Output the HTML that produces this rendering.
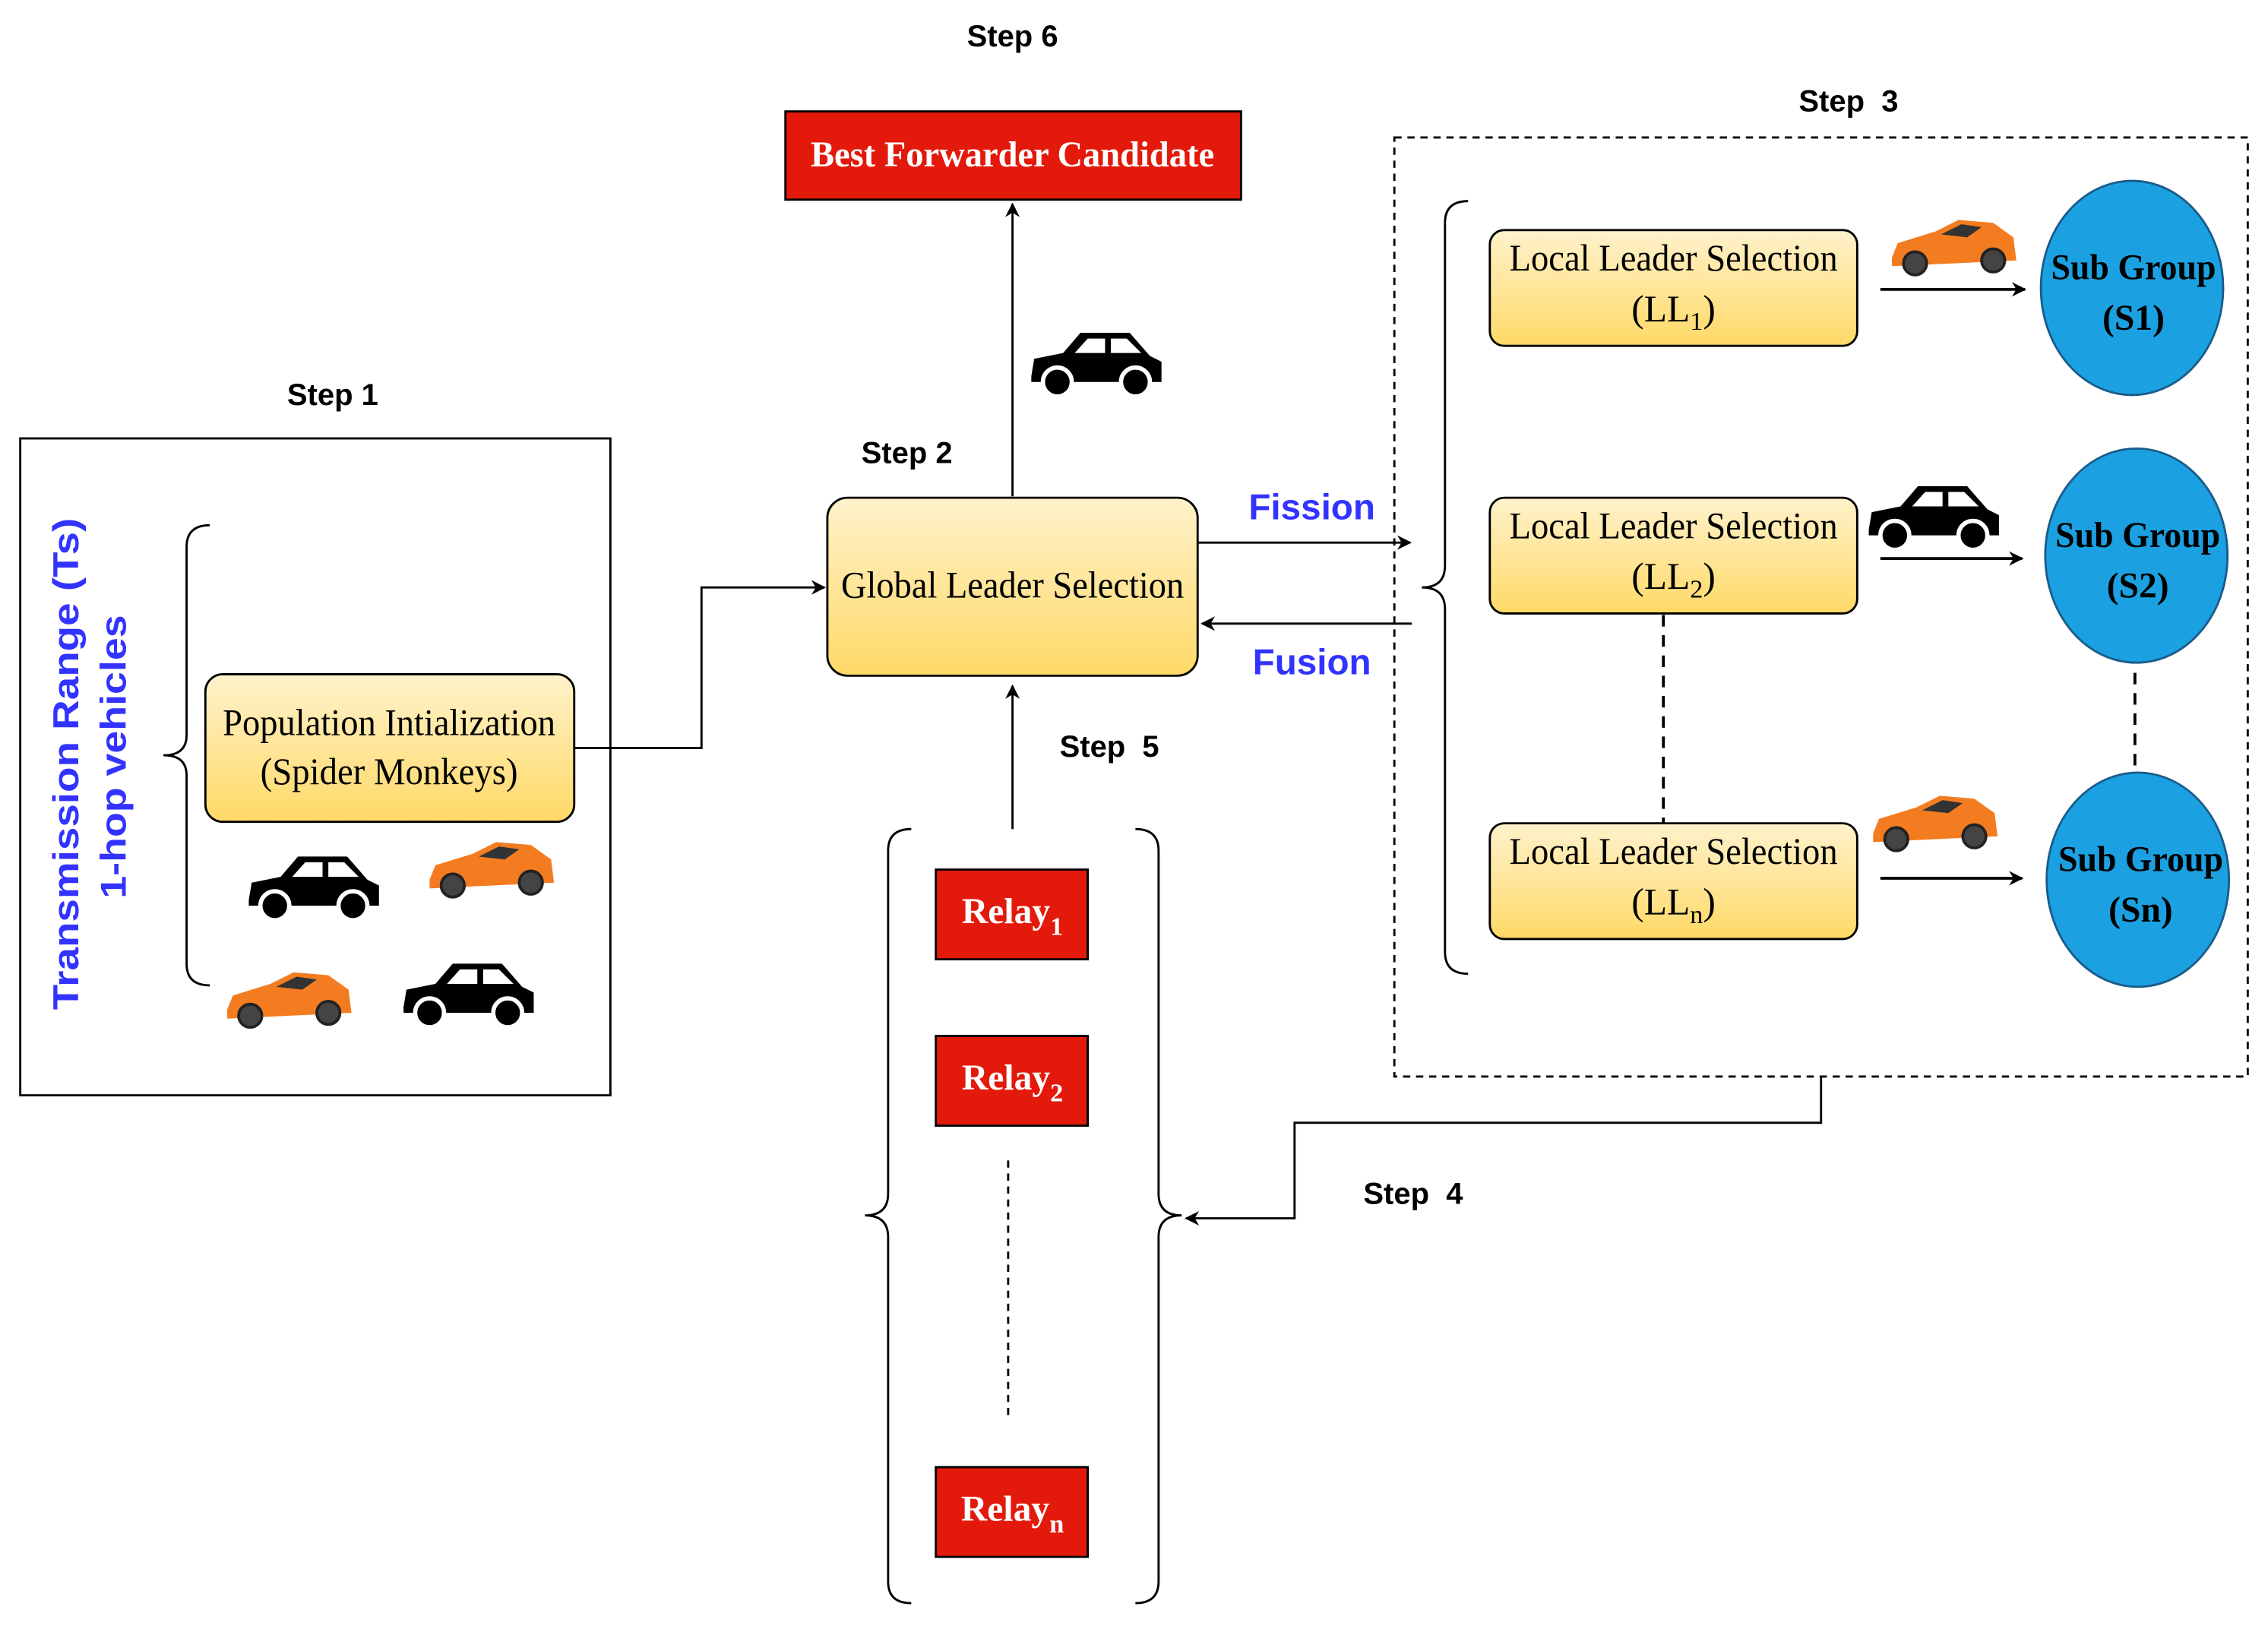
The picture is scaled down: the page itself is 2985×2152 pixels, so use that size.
<!DOCTYPE html>
<html><head><meta charset="utf-8"><style>
html,body{margin:0;padding:0;background:#fff;}
svg{display:block;}
.st{font-family:"Liberation Sans",sans-serif;font-weight:bold;font-size:21px;fill:#000;text-anchor:middle;}
.sf{font-family:"Liberation Serif",serif;font-size:26px;fill:#000;text-anchor:middle;}
.bl{font-family:"Liberation Sans",sans-serif;font-weight:bold;fill:#3333ff;text-anchor:middle;}
.wr{font-family:"Liberation Serif",serif;font-weight:bold;font-size:25px;fill:#fff;text-anchor:middle;}
</style></head><body>
<svg width="2985" height="2152" viewBox="0 0 1568 1130" preserveAspectRatio="none" xmlns="http://www.w3.org/2000/svg">
<defs>
<linearGradient id="g" x1="0" y1="0" x2="0" y2="1"><stop offset="0" stop-color="#fff2cc"/><stop offset="1" stop-color="#ffd966"/></linearGradient>
<marker id="a" markerWidth="10" markerHeight="10" refX="9" refY="5" orient="auto" markerUnits="userSpaceOnUse"><path d="M0,0 L10,5 L0,10 L3,5 z" fill="#000"/></marker>
<g id="bc">
<path d="M0,32 L2,20 L22,16 L34,2 L68,2 L82,18 L90,22 L90,36 L0,36 z" fill="#000"/>
<path d="M30,16 L39,6 L51,6 L51,16 z M55,6 L66,6 L76,16 L55,16 z" fill="#fff"/>
<circle cx="18" cy="36" r="10" fill="#000" stroke="#fff" stroke-width="3"/><circle cx="72" cy="36" r="10" fill="#000" stroke="#fff" stroke-width="3"/>
</g>
<g id="oc">
<path d="M0,26 L4,16 L30,8 L46,0 L70,2 L84,12 L86,28 L0,32 z" fill="#f47c20"/>
<path d="M34,10 L48,3 L62,5 L52,12 z" fill="#333"/>
<circle cx="16" cy="30" r="8" fill="#444" stroke="#222" stroke-width="2"/><circle cx="70" cy="28" r="8" fill="#444" stroke="#222" stroke-width="2"/>
</g>
</defs>
<text class="st" x="700" y="32">Step 6</text>
<rect x="543" y="77" width="315" height="61" fill="#e31a0b" stroke="#000" stroke-width="1.5"/>
<text class="wr" x="700" y="115" textLength="279" lengthAdjust="spacingAndGlyphs">Best Forwarder Candidate</text>
<line x1="700" y1="343" x2="700" y2="141" stroke="#000" stroke-width="1.5" marker-end="url(#a)"/>
<use href="#bc" x="713" y="228"/>
<text class="st" x="627" y="320">Step 2</text>
<rect x="572" y="344" width="256" height="123" rx="14" fill="url(#g)" stroke="#000" stroke-width="1.5"/>
<text class="sf" x="700" y="413" textLength="237" lengthAdjust="spacingAndGlyphs">Global Leader Selection</text>
<text class="st" x="230" y="280">Step 1</text>
<rect x="14" y="303" width="408" height="454" fill="none" stroke="#000" stroke-width="1.5"/>
<text class="bl" font-size="25" transform="translate(54,528) rotate(-90)" textLength="340" lengthAdjust="spacingAndGlyphs">Transmission Range (Ts)</text>
<text class="bl" font-size="25" transform="translate(87,523) rotate(-90)" textLength="196" lengthAdjust="spacingAndGlyphs">1-hop vehicles</text>
<path d="M145,363 Q129,363 129,378 L129,508 Q129,522 113,522 Q129,522 129,536 L129,666 Q129,681 145,681" fill="none" stroke="#000" stroke-width="1.5"/>
<rect x="142" y="466" width="255" height="102" rx="12" fill="url(#g)" stroke="#000" stroke-width="1.5"/>
<text class="sf" x="269" y="508" textLength="230" lengthAdjust="spacingAndGlyphs">Population Intialization</text>
<text class="sf" x="269" y="542" textLength="178" lengthAdjust="spacingAndGlyphs">(Spider Monkeys)</text>
<polyline points="397,517 485,517 485,406 570,406" fill="none" stroke="#000" stroke-width="1.5" marker-end="url(#a)"/>
<use href="#bc" x="172" y="590"/>
<use href="#oc" x="297" y="582"/>
<use href="#oc" x="157" y="672"/>
<use href="#bc" x="279" y="664"/>
<line x1="828" y1="375" x2="975" y2="375" stroke="#000" stroke-width="1.5" marker-end="url(#a)"/>
<text class="bl" font-size="25" x="907" y="359">Fission</text>
<line x1="976" y1="431" x2="831" y2="431" stroke="#000" stroke-width="1.5" marker-end="url(#a)"/>
<text class="bl" font-size="25" x="907" y="466">Fusion</text>
<text class="st" x="1278" y="77">Step&#160; 3</text>
<rect x="964" y="95" width="590" height="649" fill="none" stroke="#000" stroke-width="1.5" stroke-dasharray="5,4"/>
<path d="M1015,139 Q999,139 999,154 L999,391 Q999,406 983,406 Q999,406 999,421 L999,658 Q999,673 1015,673" fill="none" stroke="#000" stroke-width="1.5"/>
<rect x="1030" y="159" width="254" height="80" rx="10" fill="url(#g)" stroke="#000" stroke-width="1.5"/>
<text class="sf" x="1157" y="187" textLength="227" lengthAdjust="spacingAndGlyphs">Local Leader Selection</text>
<text class="sf" x="1157" y="222">(LL<tspan font-size="18" dy="6">1</tspan><tspan dy="-6">)</tspan></text>
<rect x="1030" y="344" width="254" height="80" rx="10" fill="url(#g)" stroke="#000" stroke-width="1.5"/>
<text class="sf" x="1157" y="372" textLength="227" lengthAdjust="spacingAndGlyphs">Local Leader Selection</text>
<text class="sf" x="1157" y="407">(LL<tspan font-size="18" dy="6">2</tspan><tspan dy="-6">)</tspan></text>
<rect x="1030" y="569" width="254" height="80" rx="10" fill="url(#g)" stroke="#000" stroke-width="1.5"/>
<text class="sf" x="1157" y="597" textLength="227" lengthAdjust="spacingAndGlyphs">Local Leader Selection</text>
<text class="sf" x="1157" y="632">(LL<tspan font-size="18" dy="6">n</tspan><tspan dy="-6">)</tspan></text>
<line x1="1150" y1="425" x2="1150" y2="569" stroke="#000" stroke-width="2" stroke-dasharray="8,6"/>
<use href="#oc" x="1308" y="152"/>
<use href="#bc" x="1292" y="334"/>
<use href="#oc" x="1295" y="550"/>
<line x1="1300" y1="200" x2="1400" y2="200" stroke="#000" stroke-width="2" marker-end="url(#a)"/>
<line x1="1300" y1="386" x2="1398" y2="386" stroke="#000" stroke-width="2" marker-end="url(#a)"/>
<line x1="1300" y1="607" x2="1398" y2="607" stroke="#000" stroke-width="2" marker-end="url(#a)"/>
<ellipse cx="1474" cy="199" rx="63" ry="74" fill="#1ba1e2" stroke="#1a5c8a" stroke-width="1.5"/>
<ellipse cx="1477" cy="384" rx="63" ry="74" fill="#1ba1e2" stroke="#1a5c8a" stroke-width="1.5"/>
<ellipse cx="1478" cy="608" rx="63" ry="74" fill="#1ba1e2" stroke="#1a5c8a" stroke-width="1.5"/>
<g font-family="Liberation Serif,serif" font-weight="bold" font-size="25" text-anchor="middle" fill="#000">
<text x="1475" y="193" textLength="114" lengthAdjust="spacingAndGlyphs">Sub Group</text><text x="1475" y="228">(S1)</text>
<text x="1478" y="378" textLength="114" lengthAdjust="spacingAndGlyphs">Sub Group</text><text x="1478" y="413">(S2)</text>
<text x="1480" y="602" textLength="114" lengthAdjust="spacingAndGlyphs">Sub Group</text><text x="1480" y="637">(Sn)</text>
</g>
<line x1="1476" y1="465" x2="1476" y2="530" stroke="#000" stroke-width="2" stroke-dasharray="8,6"/>
<text class="st" x="767" y="523">Step&#160; 5</text>
<line x1="700" y1="573" x2="700" y2="474" stroke="#000" stroke-width="1.5" marker-end="url(#a)"/>
<path d="M630,573 Q614,573 614,588 L614,825 Q614,840 598,840 Q614,840 614,855 L614,1093 Q614,1108 630,1108" fill="none" stroke="#000" stroke-width="1.5"/>
<path d="M785,573 Q801,573 801,588 L801,825 Q801,840 817,840 Q801,840 801,855 L801,1093 Q801,1108 785,1108" fill="none" stroke="#000" stroke-width="1.5"/>
<rect x="647" y="601" width="105" height="62" fill="#e31a0b" stroke="#000" stroke-width="1.5"/>
<text class="wr" x="700" y="638">Relay<tspan font-size="18" dy="8">1</tspan></text>
<rect x="647" y="716" width="105" height="62" fill="#e31a0b" stroke="#000" stroke-width="1.5"/>
<text class="wr" x="700" y="753">Relay<tspan font-size="18" dy="8">2</tspan></text>
<rect x="647" y="1014" width="105" height="62" fill="#e31a0b" stroke="#000" stroke-width="1.5"/>
<text class="wr" x="700" y="1051">Relay<tspan font-size="18" dy="8">n</tspan></text>
<line x1="697" y1="802" x2="697" y2="982" stroke="#000" stroke-width="1.5" stroke-dasharray="5,4"/>
<text class="st" x="977" y="832">Step&#160; 4</text>
<polyline points="1259,744 1259,776 895,776 895,842 820,842" fill="none" stroke="#000" stroke-width="1.5" marker-end="url(#a)"/>
</svg>
</body></html>
